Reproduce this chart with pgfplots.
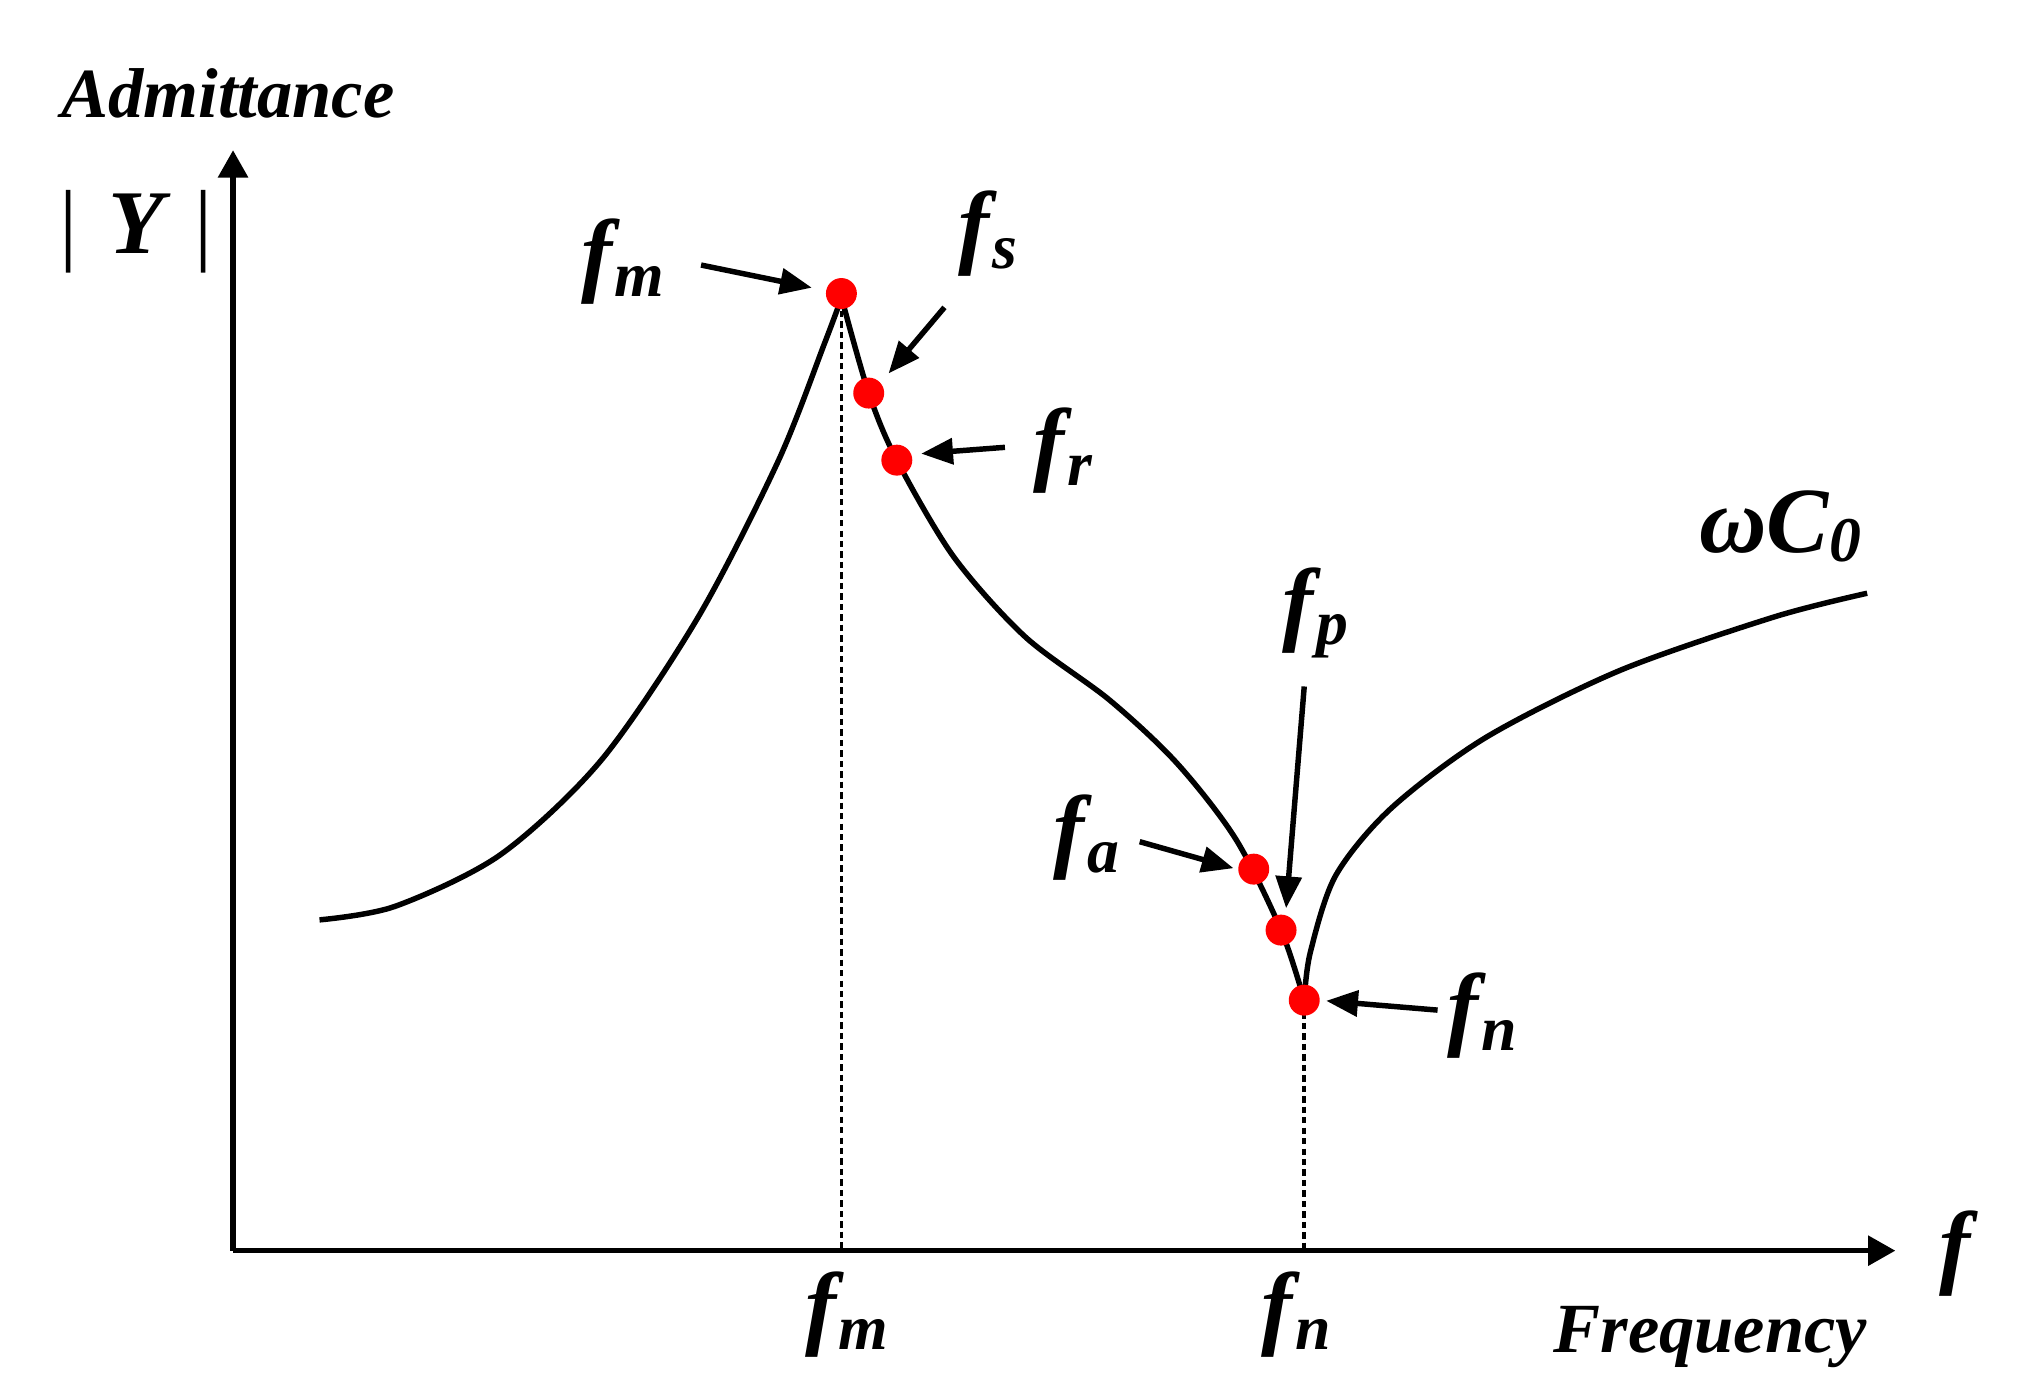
\documentclass[border=0pt]{standalone}
\usepackage{fontspec}
\setmainfont{Liberation Serif}
\usepackage{pgfplots}
\pgfplotsset{compat=1.18}
\usetikzlibrary{arrows.meta}
\definecolor{dotred}{RGB}{255,0,0}
% f with a lowered subscript, as in the figure
\newcommand{\fl}[1]{f\kern0.03em\raisebox{-2.6pt}{\fontsize{14}{14}\selectfont #1}}
\tikzset{
  lbl/.style={anchor=base, inner sep=0pt, font=\fontsize{20.5}{22}\selectfont\bfseries\itshape},
  arr/.style={-{Triangle[length=7pt,width=5.6pt]}, line width=1.2pt},
}

\begin{document}
\begin{tikzpicture}
\begin{axis}[
  width=15.68cm, height=10.81cm, scale only axis,
  xmin=0, xmax=1568, ymin=0, ymax=1081, y dir=reverse,
  hide axis, clip=false,
]
\path (axis cs:0,0) rectangle (axis cs:1568,1081);

% axes
\draw[line width=1.2pt, -{Triangle[length=6pt,width=6.4pt]}] (axis cs:180,966) -- (axis cs:180,116);
\draw[line width=1.2pt, -{Triangle[length=6pt,width=6.4pt]}] (axis cs:179.6,966) -- (axis cs:1464,966);

% dashed guides at fm and fn
\addplot[line width=0.8pt, dash pattern=on 1.4pt off 0.9pt] coordinates {(650,240) (650,966)};
\addplot[line width=0.8pt, dash pattern=on 1.4pt off 0.9pt] coordinates {(1007,782) (1007,966)};

% admittance curve, three branches
\addplot[line width=1.2pt, smooth] coordinates {
  (246.8,710.5) (305.3,700) (386.6,660.1) (464.6,586.9)
  (539.4,476.4) (601.1,356.1) (636.9,265.1) (650,230)
};
\addplot[line width=1.2pt, smooth] coordinates {
  (650,230) (671,303.6) (692.7,355.4) (736.6,430) (791.8,491.8)
  (856.9,540.6) (908.9,589.3) (954.4,647.9) (989.5,718.4) (1007.4,772.5)
};
\addplot[line width=1.2pt, smooth] coordinates {
  (1007.4,772.5) (1012,736) (1031.5,676.6) (1074.2,624.6) (1147.5,569.7)
  (1251.3,517.8) (1370.4,476.5) (1442.2,458.2)
};

% characteristic frequencies
\addplot[only marks, mark=*, mark size=3.2pt, color=dotred] coordinates {
  (649.9,226.7) (671,303.6) (692.7,355.4) (968.4,671.3) (989.5,718.4) (1007.4,772.5)
};

% annotation arrows
\draw[arr] (axis cs:541.5,204.7) -- (axis cs:627.1,222.2);
\draw[arr] (axis cs:729.5,237.4) -- (axis cs:686.3,288.5);
\draw[arr] (axis cs:776.2,345.5) -- (axis cs:711.5,350.4);
\draw[arr] (axis cs:1007.4,530.2) -- (axis cs:993.4,701.5);
\draw[arr] (axis cs:880.3,650.1) -- (axis cs:952.8,670.6);
\draw[arr] (axis cs:1110.4,780.2) -- (axis cs:1024.3,773);

% labels
\node[lbl] at (axis cs:481,220) {\fl{m}};
\node[lbl] at (axis cs:763,198) {\fl{s}};
\node[lbl] at (axis cs:821,366) {\fl{r}};
\node[lbl] at (axis cs:1016,489) {\fl{p}};
\node[lbl] at (axis cs:839,665) {\fl{a}};
\node[lbl] at (axis cs:1145,802) {\fl{n}};
\node[lbl] at (axis cs:654,1033) {\fl{m}};
\node[lbl] at (axis cs:1001,1033) {\fl{n}};
\node[lbl] at (axis cs:1510,986) {f};
\node[lbl] at (axis cs:1375,427) {ωC\raisebox{-2pt}{\fontsize{14}{14}\selectfont 0}};
\node[anchor=base, inner sep=0pt, font=\fontsize{15.5}{18}\selectfont\bfseries\itshape] at (axis cs:176,91) {Admittance};
\node[anchor=base, inner sep=0pt, font=\fontsize{15.5}{18}\selectfont\bfseries\itshape] at (axis cs:1321,1045) {Frequency};
\node[anchor=base, inner sep=0pt, font=\fontsize{20}{22}\selectfont\bfseries\itshape] at (axis cs:105,196) {{\mdseries\upshape|}\,\,Y\,\,{\mdseries\upshape|}};
\end{axis}
\end{tikzpicture}
\end{document}
